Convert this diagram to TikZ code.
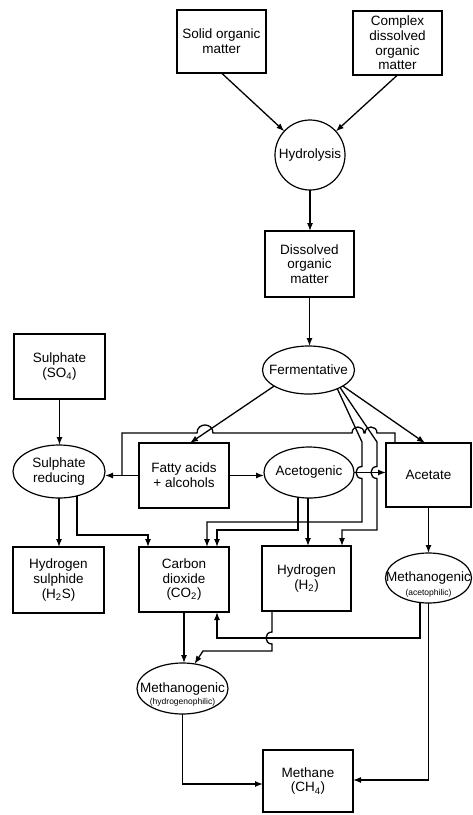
\documentclass[tikz,border=0pt]{standalone}
\usepackage{fontspec}
\setmainfont{Liberation Sans}
\usetikzlibrary{shapes.geometric,arrows.meta,calc}
\begin{document}
\begin{tikzpicture}[x=1pt,y=-1pt,
  every node/.style={font=\fontsize{13.5}{14.7}\selectfont, align=center, inner sep=0pt, outer sep=0pt},
  box/.style={draw, line width=1.2pt, rectangle},
  oval/.style={draw, line width=1.2pt, ellipse, inner xsep=-25pt, inner ysep=-8pt},
  every label/.style={inner sep=0pt, font=\fontsize{8.5}{9}\selectfont},
  conn/.style={line width=1.3pt, -{Latex[length=8pt,width=6pt]}},
  plain/.style={line width=1.3pt}]
\useasboundingbox (0,0) rectangle (472,815);

% nodes
\node[box, minimum width=89pt, minimum height=63pt] (solid) at (221.5,41.5) {Solid organic\\matter};
\node[box, minimum width=89pt, minimum height=64pt] (complex) at (397.5,43) {Complex\\dissolved\\organic\\matter};
\node[draw, circle, line width=1.2pt, minimum size=70pt] (hydro) at (310,155) {Hydrolysis};
\node[box, minimum width=89pt, minimum height=66pt] (dissolved) at (309.5,264) {Dissolved\\organic\\matter};
\node[oval, minimum width=92pt, minimum height=48pt] (ferm) at (308.5,370) {Fermentative};
\node[box, minimum width=91pt, minimum height=65pt] (sulphate) at (59.5,366.5) {Sulphate\\(SO\textsubscript{4})};
\node[oval, minimum width=92pt, minimum height=53pt] (sred) at (59,471.5) {Sulphate\\reducing};
\node[box, minimum width=90pt, minimum height=65pt] (fatty) at (184,475.5) {Fatty acids\\+ alcohols};
\node[oval, minimum width=90pt, minimum height=51pt] (acetog) at (309,472.5) {Acetogenic};
\node[box, minimum width=85pt, minimum height=64pt] (acetate) at (428.5,475) {Acetate};
\node[box, minimum width=91pt, minimum height=66pt] (h2s) at (58.5,580) {Hydrogen\\sulphide\\(H\textsubscript{2}S)};
\node[box, minimum width=90pt, minimum height=65pt] (co2) at (184,579.5) {Carbon\\dioxide\\(CO\textsubscript{2})};
\node[box, minimum width=89pt, minimum height=65pt] (h2) at (306.5,578.5) {Hydrogen\\(H\textsubscript{2})};
\node[oval, minimum width=86pt, minimum height=50pt, label={[label distance=-14pt]below:(acetophilic)}] (macet) at (428.5,578) {Methanogenic};
\node[oval, minimum width=91pt, minimum height=51pt, label={[label distance=-16pt]below:(hydrogenophilic)}] (mhyd) at (182.5,688.5) {Methanogenic};
\node[box, minimum width=90pt, minimum height=62pt] (methane) at (308,781) {Methane\\(CH\textsubscript{4})};

% top part
\draw[conn] (solid.south) -- (hydro);
\draw[conn] (complex.south) -- (hydro);
\draw[conn] (hydro.south) -- (hydro.south |- dissolved.north);
\draw[conn] (dissolved.south) -- (dissolved.south |- ferm.north);
\draw[conn] (sulphate.south) -- (sulphate.south |- sred.north);

% fermentative outputs
\draw[conn] (ferm.205) -- ($(fatty.north)+(6,0)$);
\draw[conn] (ferm.-25) -- ($(acetate.north)+(-3.5,0)$);
\draw[conn] (ferm.-33) -- (362,442)
  -- (362,466.5) .. controls (354,466.5) and (354,478.5) .. (362,478.5)
  -- (362,522) -- (207,522) coordinate (v1) -- (v1 |- co2.north);
\draw[conn] (ferm.-29) -- (377,442)
  -- (377,466.5) .. controls (369,466.5) and (369,478.5) .. (377,478.5)
  -- (377,530) -- (342,530) coordinate (v2) -- (v2 |- h2.north);

% acetate -> sulphate reducing (top route with hops)
\draw[plain] ($(acetate.north)+(-33.5,0)$) -- (395,433)
  -- (377,433) .. controls (377,425) and (365,425) .. (365,433)
  -- (364,433) .. controls (364,425) and (352,425) .. (352,433)
  -- (213,433) .. controls (213,422.3) and (197,422.3) .. (197,433)
  -- (122,433) -- (122,475.5);

% fatty acids
\draw[conn] (fatty.east) -- (fatty.east -| acetog.west);
\draw[conn] (fatty.west) -- (fatty.west -| sred.east);

% acetogenic
\draw[conn] (acetog.east) -- (acetog.east -| acetate.west);
\draw[conn] ($(acetog.south)+(-11,-0.8)$) -- (298,530) -- (217,530) coordinate (a1) -- (a1 |- co2.north);
\coordinate (a2) at ($(acetog.south)+(-1,0)$);
\draw[conn] (a2) -- (a2 |- h2.north);

% sulphate reducing outputs
\draw[conn] (sred.south) -- (sred.south |- h2s.north);
\draw[conn] ($(sred.south)+(18,-2)$) -- (77,535) -- (148,535) coordinate (s1) -- (s1 |- co2.north);

% acetate -> methanogenic acetophilic
\draw[conn] (acetate.south) -- (acetate.south |- macet.north);

% methanogenic acetophilic -> CO2
\draw[conn] ($(macet.south)+(-8.5,-0.5)$) -- (420,638) -- (217,638) coordinate (m1) -- (m1 |- co2.south);

% CO2 and H2 -> methanogenic hydrogenophilic
\draw[conn] (co2.south) -- (co2.south |- mhyd.north);
\draw[conn] ($(h2.south)+(-34.5,0)$) -- (272,632)
  .. controls (264,632) and (264,644) .. (272,644)
  -- (272,651) -- (203,651) -- (mhyd.64);

% to methane
\draw[conn] (macet.south) |- ($(methane.east)+(0,-1)$);
\draw[conn] (mhyd.south) |- ($(methane.west)+(0,3)$);
\end{tikzpicture}
\end{document}
